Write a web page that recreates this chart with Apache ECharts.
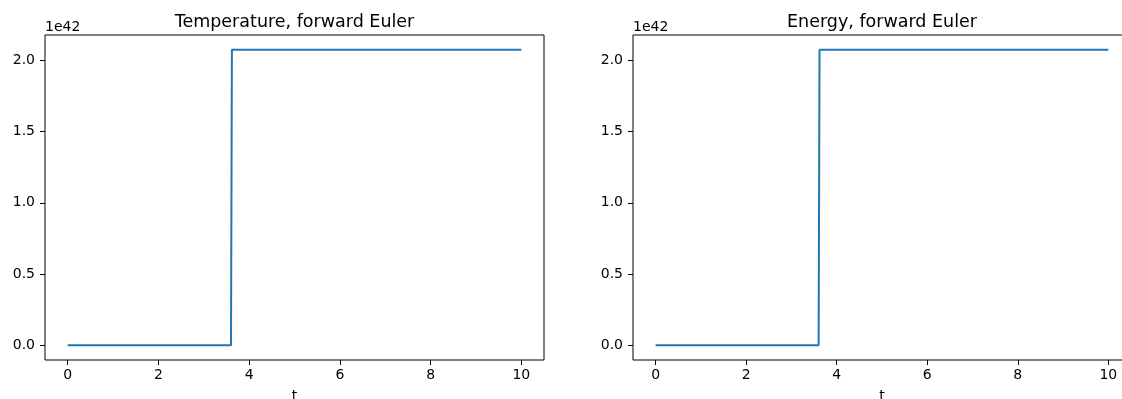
<!DOCTYPE html>
<html>
<head>
<meta charset="utf-8">
<script src="https://cdn.jsdelivr.net/npm/echarts@6/dist/echarts.min.js"></script>
<style>
  html, body { margin: 0; padding: 0; overflow: hidden; background: #fff; }
  #chart { width: 1140px; height: 399px; }
</style>
</head>
<body>
<div id="chart"></div>
<script>
// Time samples of the forward Euler run (the blow-up happens between two steps)
const timeSamples = [0, 3.60, 3.62, 10];
// Values in units of 1e42
const temperature = [0, 0, 2.075, 2.075];
const energy = [0, 0, 2.075, 2.075];

const xTicks = [0, 2, 4, 6, 8, 10];
const yTicks = [0, 0.5, 1.0, 1.5, 2.0];
const titles = ['Temperature, forward Euler', 'Energy, forward Euler'];
const offsetLabel = '1e42';
const xName = 't';

const FONT = 'DejaVu Sans';
const BLUE = '#1f77b4';

// Two axes rectangles (pixels)
const grids = [
  { left: 45, top: 35, width: 499, height: 325 },
  { left: 633, top: 35, width: 498, height: 325 }
];

function pairs(xs, ys) { return xs.map((x, i) => [x, ys[i]]); }

const chart = echarts.init(document.getElementById('chart'), null, { renderer: 'canvas' });

const option = {
  animation: false,
  backgroundColor: '#fff',
  grid: grids.map(g => ({
    left: g.left, top: g.top, width: g.width, height: g.height,
    outerBoundsMode: 'none', containLabel: false,
    show: true, borderColor: '#000', borderWidth: 1, backgroundColor: 'transparent'
  })),
  xAxis: grids.map((g, i) => ({
    type: 'value', gridIndex: i, min: -0.5, max: 10.5, position: 'bottom',
    splitLine: { show: false },
    axisLine: { show: false, onZero: false },
    axisTick: { show: true, length: 5, customValues: xTicks, lineStyle: { color: '#000', width: 1 } },
    axisLabel: { customValues: xTicks, margin: 8, color: '#000', fontFamily: FONT, fontSize: 14,
      formatter: v => String(v) },
    name: xName, nameLocation: 'middle', nameGap: 29,
    nameTextStyle: { color: '#000', fontFamily: FONT, fontSize: 14 }
  })),
  yAxis: grids.map((g, i) => ({
    type: 'value', gridIndex: i, min: -0.10375, max: 2.17875, position: 'left',
    splitLine: { show: false },
    axisLine: { show: false, onZero: false },
    axisTick: { show: true, length: 5, customValues: yTicks, lineStyle: { color: '#000', width: 1 } },
    axisLabel: { customValues: yTicks, margin: 10, color: '#000', fontFamily: FONT, fontSize: 14,
      formatter: v => v.toFixed(1) }
  })),
  series: [temperature, energy].map((vals, i) => ({
    type: 'line', xAxisIndex: i, yAxisIndex: i,
    data: pairs(timeSamples, vals),
    showSymbol: false, symbol: 'none',
    lineStyle: { color: BLUE, width: 2 },
    clip: false
  })),
  graphic: grids.flatMap((g, i) => [
    {
      type: 'text', x: g.left + g.width / 2, y: 31,
      style: { text: titles[i], fill: '#000', font: '17.5px "' + FONT + '"',
        textAlign: 'center', textVerticalAlign: 'bottom' }
    },
    {
      type: 'text', x: g.left, y: 34.5,
      style: { text: offsetLabel, fill: '#000', font: '14px "' + FONT + '"',
        textAlign: 'left', textVerticalAlign: 'bottom' }
    }
  ])
};

chart.setOption(option);
</script>
</body>
</html>
